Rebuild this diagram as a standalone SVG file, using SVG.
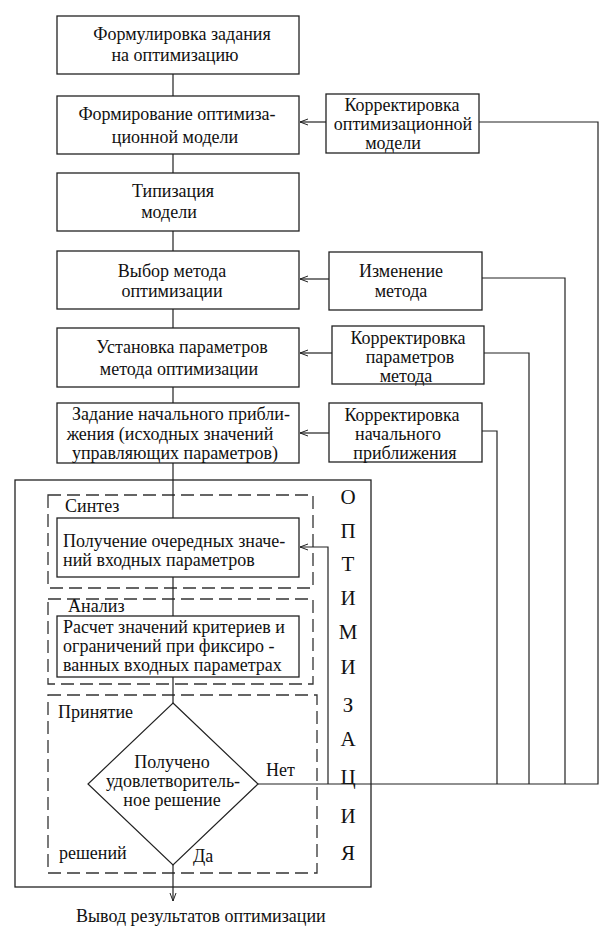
<svg xmlns="http://www.w3.org/2000/svg" width="611" height="943" viewBox="0 0 611 943">
<defs>
<marker id="ah" viewBox="0 0 8 8" refX="8" refY="4" markerWidth="8" markerHeight="8" markerUnits="userSpaceOnUse" orient="auto">
<path d="M0,1 L8,4 L0,7" fill="none" stroke="#222" stroke-width="1"/>
</marker>
</defs>
<rect width="611" height="943" fill="#fff"/>

<g id="outer">
<rect x="15" y="480" width="356" height="407" fill="none" stroke="#222" stroke-width="1.3"/>
<g font-family="Liberation Serif" font-size="21" text-anchor="middle" fill="#111">
<text x="348" y="504">О</text>
<text x="348" y="538">П</text>
<text x="348" y="571">Т</text>
<text x="348" y="605">И</text>
<text x="348" y="639">М</text>
<text x="348" y="674">И</text>
<text x="348" y="712">З</text>
<text x="348" y="746">А</text>
<text x="348" y="784">Ц</text>
<text x="348" y="823">И</text>
<text x="348" y="860">Я</text>
</g>
</g>

<g fill="none" stroke="#333" stroke-width="1.3" stroke-dasharray="13 6">
<rect id="synth-frame" x="48" y="495" width="265" height="93"/>
<rect id="analysis-frame" x="48" y="599" width="265" height="85"/>
<rect id="decision-frame" x="48" y="695" width="269" height="178"/>
</g>
<g font-family="Liberation Serif" font-size="18" fill="#111">
<text id="synth-label" x="65" y="512">Синтез</text>
<text id="analysis-label" x="68" y="612">Анализ</text>
<text id="decision-label1" x="58" y="718">Принятие</text>
<text id="decision-label2" x="59" y="859">решений</text>
</g>

<g id="connectors" fill="none" stroke="#222" stroke-width="1.2">
<path d="M173,74 V96 M173,154 V173 M173,231 V251 M173,309 V328 M173,387 V403 M173,463 V518 M173,577 V616 M173,677 V703"/>
<path d="M173,865 V901" marker-end="url(#ah)"/>
<path d="M258,784 H598 V122 H479"/>
<path d="M565,784 V278 H482"/>
<path d="M529,784 V353 H484"/>
<path d="M497,784 V431 H482"/>
<path d="M326,122 H300" marker-end="url(#ah)"/>
<path d="M329,279 H300" marker-end="url(#ah)"/>
<path d="M332,353 H300" marker-end="url(#ah)"/>
<path d="M329,433 H300" marker-end="url(#ah)"/>
<path d="M328,784 V547 H300" marker-end="url(#ah)"/>
</g>
<g font-family="Liberation Serif" font-size="18" fill="#111">
<text x="266" y="776">Нет</text>
<text x="193" y="862">Да</text>
</g>

<g fill="#fff" stroke="#222" stroke-width="1.3">
<rect id="n1-box" x="57" y="16" width="242" height="58"/>
<rect id="n2-box" x="57" y="96" width="242" height="58"/>
<rect id="n3-box" x="57" y="173" width="242" height="58"/>
<rect id="n4-box" x="57" y="251" width="242" height="58"/>
<rect id="n5-box" x="57" y="328" width="242" height="59"/>
<rect id="n6-box" x="57" y="403" width="242" height="60"/>
<rect id="c1-box" x="326" y="94" width="153" height="59"/>
<rect id="c2-box" x="329" y="252" width="153" height="58"/>
<rect id="c3-box" x="332" y="326" width="152" height="58"/>
<rect id="c4-box" x="329" y="403" width="153" height="59"/>
<rect id="s1-box" x="57" y="518" width="242" height="59"/>
<rect id="a1-box" x="57" y="616" width="242" height="61"/>
<polygon id="d1-shape" points="173,703 258,784 173,865 88,784" stroke-width="1.2"/>
</g>

<g font-family="Liberation Serif" font-size="18" fill="#111" text-anchor="middle">
<g id="n1">
<text x="182" y="40">Формулировка задания</text>
<text x="175" y="61">на оптимизацию</text>
</g>
<g id="n2">
<text x="177" y="120">Формирование оптимиза-</text>
<text x="175" y="143">ционной модели</text>
</g>
<g id="n3">
<text x="173" y="197">Типизация</text>
<text x="169" y="218">модели</text>
</g>
<g id="n4">
<text x="172" y="277">Выбор метода</text>
<text x="172" y="297">оптимизации</text>
</g>
<g id="n5">
<text x="182" y="353">Установка параметров</text>
<text x="179" y="375">метода оптимизации</text>
</g>
<g id="n6">
<text x="181" y="420">Задание начального прибли-</text>
<text x="170" y="440">жения (исходных значений</text>
<text x="175" y="459">управляющих параметров)</text>
</g>
<g id="c1">
<text x="402" y="111">Корректировка</text>
<text x="403" y="130">оптимизационной</text>
<text x="393" y="149">модели</text>
</g>
<g id="c2">
<text x="401" y="277">Изменение</text>
<text x="401" y="297">метода</text>
</g>
<g id="c3">
<text x="408" y="344">Корректировка</text>
<text x="410" y="363">параметров</text>
<text x="406" y="382">метода</text>
</g>
<g id="c4">
<text x="402" y="421">Корректировка</text>
<text x="398" y="440">начального</text>
<text x="405" y="459">приближения</text>
</g>
<g id="d1">
<text x="172" y="768">Получено</text>
<text x="173" y="787">удовлетворитель-</text>
<text x="172" y="806">ное решение</text>
</g>
</g>

<g font-family="Liberation Serif" font-size="18" fill="#111">
<g id="s1">
<text x="63" y="547">Получение очередных значе-</text>
<text x="63" y="566">ний входных параметров</text>
</g>
<g id="a1">
<text x="63" y="633">Расчет значений критериев и</text>
<text x="63" y="652">ограничений при фиксиро -</text>
<text x="63" y="671">ванных входных параметрах</text>
</g>
<g id="out">
<text x="76" y="922">Вывод результатов оптимизации</text>
</g>
</g>
</svg>
